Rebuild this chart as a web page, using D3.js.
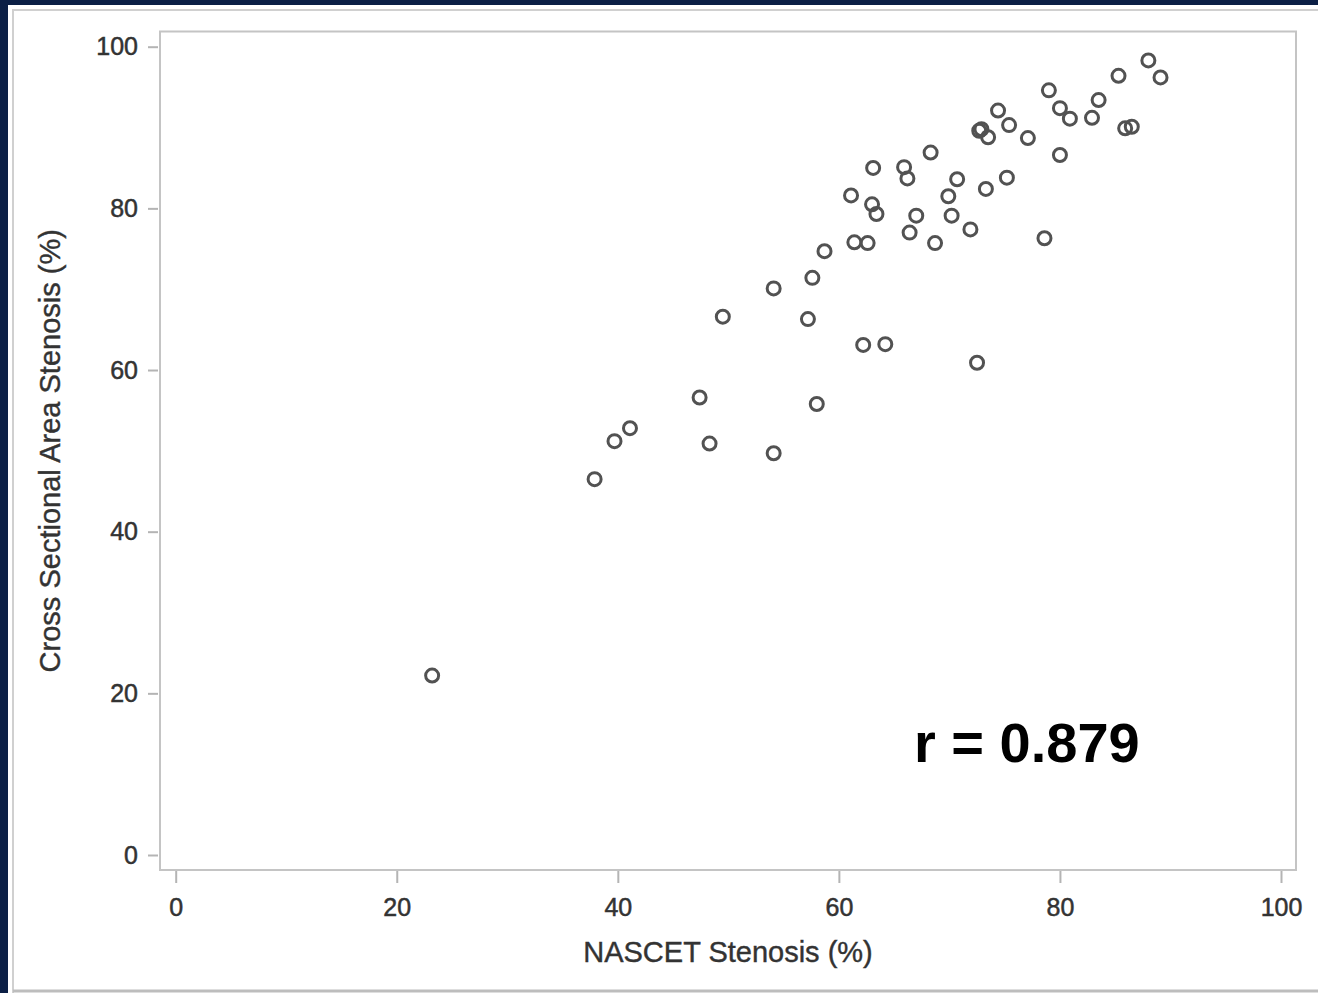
<!DOCTYPE html>
<html>
<head>
<meta charset="utf-8">
<script src="https://cdn.jsdelivr.net/npm/d3@7"></script>
<style>
  html, body { margin: 0; padding: 0; background: #0b1f45; }
  svg { display: block; }
</style>
</head>
<body>
<div id="chart"></div>
<script>
// NASCET stenosis (%) vs cross sectional area stenosis (%)
var nascet = [23.2, 37.9, 39.7, 41.1, 47.4, 48.3, 49.5, 54.1, 54.1, 57.2,
              57.6, 58.0, 58.7, 61.1, 61.4, 62.2, 62.6, 63.0, 63.1, 63.4,
              64.2, 65.9, 66.2, 66.4, 67.0, 68.3, 68.7, 69.9, 70.2, 70.7,
              71.9, 72.5, 72.7, 72.9, 73.5, 73.3, 74.4, 75.2, 75.4, 77.1,
              78.6, 79.0, 80.0, 80.0, 80.9, 82.9, 83.5, 85.3, 85.9, 86.5,
              88.0, 89.1];
var csa = [22.2, 46.5, 51.2, 52.8, 56.6, 50.9, 66.6, 49.7, 70.1, 66.3,
           71.4, 55.8, 74.7, 81.6, 75.8, 63.1, 75.7, 80.5, 85.0, 79.3,
           63.2, 85.1, 83.7, 77.0, 79.1, 86.9, 75.7, 81.5, 79.1, 83.6,
           77.4, 60.9, 89.6, 89.8, 88.8, 82.4, 92.1, 83.8, 90.3, 88.7,
           76.3, 94.6, 92.4, 86.6, 91.1, 91.2, 93.4, 96.4, 89.9, 90.1,
           98.3, 96.2];
var xTicks = [0, 20, 40, 60, 80, 100];
var yTicks = [0, 20, 40, 60, 80, 100];
var xTitle = 'NASCET Stenosis (%)';
var yTitle = 'Cross Sectional Area Stenosis (%)';
var note = 'r = 0.879';

var width = 1318, height = 993;
var font = '"Liberation Sans", Arial, sans-serif';
var textColor = '#333';
var frame = { left: 160, right: 1296, top: 31.5, bottom: 870 };

var svg = d3.select('#chart')
            .append('svg')
            .attr('width', width)
            .attr('height', height);

// navy slide background with white panel
svg.append('rect')
   .attr('width', width).attr('height', height)
   .attr('fill', '#0b1f45');
svg.append('rect')
   .attr('x', 8).attr('y', 5)
   .attr('width', width - 8).attr('height', height - 5)
   .attr('fill', '#fff');
svg.append('path')
   .attr('d', 'M13,' + height + 'V10H' + width)
   .attr('fill', 'none')
   .attr('stroke', '#d0d0d0')
   .attr('stroke-width', 2);
svg.append('line')
   .attr('x1', 13).attr('x2', width)
   .attr('y1', 991).attr('y2', 991)
   .attr('stroke', '#bdbdbd')
   .attr('stroke-width', 3);

var x = d3.scaleLinear().domain([0, 100]).range([175.7, 1281]);
var y = d3.scaleLinear().domain([0, 100]).range([855, 46.7]);

// frame
svg.append('rect')
   .attr('x', frame.left).attr('y', frame.top)
   .attr('width', frame.right - frame.left)
   .attr('height', frame.bottom - frame.top)
   .attr('fill', 'none')
   .attr('stroke', '#c4c4c4')
   .attr('stroke-width', 2);

// axes
var xAxis = svg.append('g')
               .attr('transform', 'translate(0,' + (frame.bottom + 1) + ')')
               .call(d3.axisBottom(x).tickValues(xTicks).tickSize(12).tickPadding(10));
var yAxis = svg.append('g')
               .attr('transform', 'translate(' + (frame.left - 2) + ',0)')
               .call(d3.axisLeft(y).tickValues(yTicks).tickSize(10).tickPadding(10));

[xAxis, yAxis].forEach(function (g) {
  g.select('.domain').remove();
  g.selectAll('.tick line')
   .attr('stroke', '#b4b4b4')
   .attr('stroke-width', 2);
  g.selectAll('.tick text')
   .attr('fill', textColor)
   .attr('stroke', textColor)
   .attr('stroke-width', 0.5)
   .style('font-family', font)
   .style('font-size', '25px');
});
xAxis.selectAll('.tick text').attr('y', 27).attr('dy', '0.71em');

// axis titles
svg.append('text')
   .attr('x', (frame.left + frame.right) / 2)
   .attr('y', 962)
   .attr('text-anchor', 'middle')
   .attr('fill', textColor)
   .attr('stroke', textColor)
   .attr('stroke-width', 0.4)
   .style('font-family', font)
   .style('font-size', '29px')
   .text(xTitle);
svg.append('text')
   .attr('transform', 'translate(60,' + ((frame.top + frame.bottom) / 2) + ') rotate(-90)')
   .attr('text-anchor', 'middle')
   .attr('fill', textColor)
   .attr('stroke', textColor)
   .attr('stroke-width', 0.4)
   .style('font-family', font)
   .style('font-size', '29px')
   .text(yTitle);

// points
svg.append('g')
   .selectAll('circle')
   .data(d3.range(nascet.length))
   .enter()
   .append('circle')
   .attr('cx', function (i) { return x(nascet[i]); })
   .attr('cy', function (i) { return y(csa[i]); })
   .attr('r', 6.5)
   .attr('fill', 'none')
   .attr('stroke', '#525252')
   .attr('stroke-width', 3);

// correlation label
svg.append('text')
   .attr('x', 914)
   .attr('y', 762)
   .attr('fill', '#000')
   .style('font-family', font)
   .style('font-weight', 'bold')
   .style('font-size', '56px')
   .text(note);
</script>
</body>
</html>
